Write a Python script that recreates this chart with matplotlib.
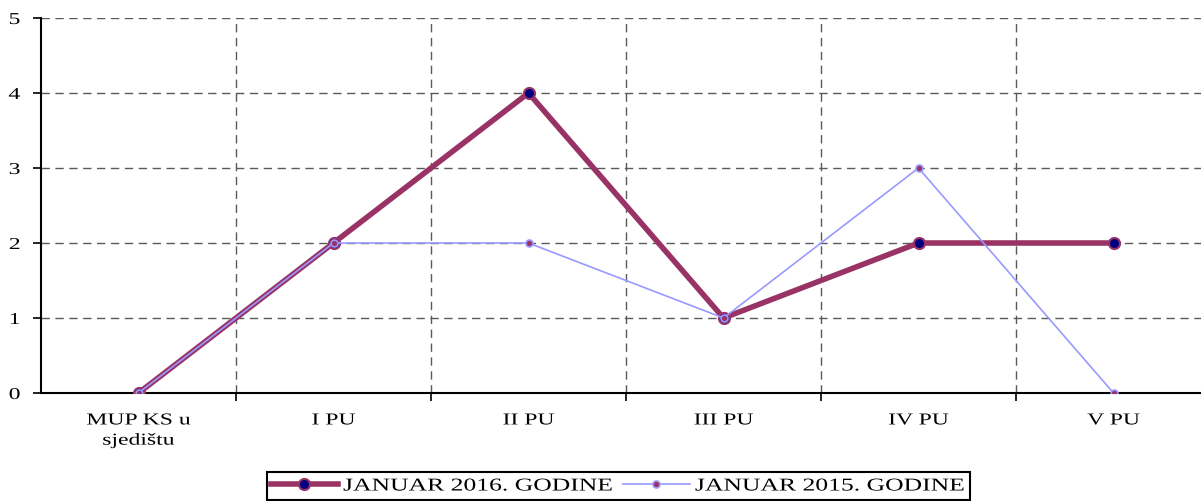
import matplotlib

matplotlib.use("Agg")
import matplotlib.pyplot as plt  # noqa: E402
from matplotlib.patches import Rectangle  # noqa: E402
from matplotlib.patheffects import AbstractPathEffect  # noqa: E402
from matplotlib.transforms import Affine2D  # noqa: E402

categories = ["MUP KS u\nsjedištu", "I PU", "II PU", "III PU", "IV PU", "V PU"]
jan_2016 = [0, 2, 4, 1, 2, 2]
jan_2015 = [0, 2, 2, 1, 3, 0]
labels = ["JANUAR 2016. GODINE", "JANUAR 2015. GODINE"]

plt.rcParams["font.family"] = ["Liberation Serif", "DejaVu Serif"]


class HStretch(AbstractPathEffect):
    """Draw text glyphs stretched horizontally (the source chart's text is wide)."""

    def __init__(self, sx, anchor="center"):
        super().__init__()
        self.sx = sx
        self.anchor = anchor

    def draw_path(self, renderer, gc, tpath, affine, rgbFace=None):
        ext = tpath.get_extents()
        cx = {"left": ext.x0, "right": ext.x1}.get(self.anchor, (ext.x0 + ext.x1) / 2)
        t = Affine2D().translate(-cx, 0).scale(self.sx, 1).translate(cx, 0)
        renderer.draw_path(gc, tpath, t + affine, rgbFace)


SX = 1.42

fig = plt.figure(figsize=(12.01, 5.01), dpi=100)
ax = fig.add_axes([41 / 1201, 108 / 501, 1170 / 1201, 375 / 501])

x = list(range(len(categories)))
ax.plot(x, jan_2016, color="#993366", lw=4, marker="o", ms=8,
        mfc="#000080", mec="#993366", mew=1.5, label=labels[0], zorder=3)
ax.plot(x, jan_2015, color="#9999FF", lw=1.2, marker="o", ms=5,
        mfc="#993366", mec="#9999FF", mew=1.2, label=labels[1], zorder=4)

ax.set_xlim(-0.5, len(categories) - 0.5)
ax.set_ylim(0, 5)
ax.set_yticks(range(6))
ax.set_xticks(x)
ax.set_xticklabels(categories, linespacing=1.35)
ax.set_xticks([i + 0.5 for i in x[:-1]], minor=True)
ax.tick_params(axis="x", which="major", length=0, pad=14)
ax.tick_params(axis="x", which="minor", length=6, direction="out", width=1.2)
ax.tick_params(axis="y", length=6, direction="out", width=1.2, pad=9)
for lab in ax.get_xticklabels():
    lab.set_fontsize(12)
    lab.set_path_effects([HStretch(SX)])
for lab in ax.get_yticklabels():
    lab.set_fontsize(12)
    lab.set_path_effects([HStretch(SX, "right")])

ax.grid(True, which="minor", axis="x", color="#5a5a5a", ls=(0, (6, 4)), lw=1)
ax.grid(True, which="major", axis="y", color="#5a5a5a", ls=(0, (6, 4)), lw=1)
ax.set_axisbelow(True)
for s in ("top", "right"):
    ax.spines[s].set_visible(False)
ax.spines["left"].set_linewidth(1.5)
ax.spines["bottom"].set_linewidth(1.5)

# legend: text widened by the stretch effect, so the gap between columns
# absorbs the extra width and the frame is drawn separately
leg = fig.legend(loc="center left", bbox_to_anchor=(271 / 1201, 15 / 501), ncol=2,
                 fontsize=13, frameon=False, borderpad=0, borderaxespad=0,
                 handlelength=3.7, handletextpad=0.3, columnspacing=5.0)
for t in leg.get_texts():
    t.set_path_effects([HStretch(SX, "left")])
fig.add_artist(Rectangle((267 / 1201, 1 / 501), 703 / 1201, 28 / 501,
                         transform=fig.transFigure, fill=False,
                         edgecolor="black", lw=1.5))

fig.savefig("out.png", dpi=100)
